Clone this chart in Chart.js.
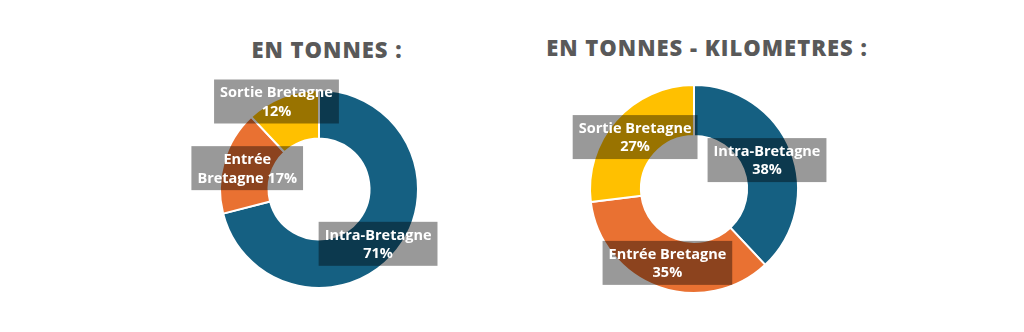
<!DOCTYPE html>
<html>
<head>
<meta charset="utf-8">
<script src="https://cdn.jsdelivr.net/npm/chart.js@4.4.1/dist/chart.umd.min.js"></script>
<style>
  html, body { margin: 0; padding: 0; background: #ffffff; }
  body { width: 1024px; height: 332px; position: relative; overflow: hidden; }
  .title { position: absolute; font-family: "Open Sans", sans-serif; font-weight: 800; font-size: 22px;
           color: #595959; letter-spacing: 1px; white-space: nowrap; transform: translateX(-50%); top: 34px; }
  canvas { position: absolute; top: 0; }
</style>
</head>
<body>
<div class="title" id="t1" style="left:327px;">EN TONNES :</div>
<div class="title" id="t2" style="left:707px;top:32px;">EN TONNES - KILOMETRES :</div>
<canvas id="c1" width="512" height="332" style="left:0;width:512px;height:332px;"></canvas>
<canvas id="c2" width="512" height="332" style="left:512px;width:512px;height:332px;"></canvas>
<script>
// ---- data ----
const categories = ['Intra-Bretagne', 'Entrée Bretagne', 'Sortie Bretagne'];
const tonnesValues = [71, 17, 12];
const tonnesKmValues = [38, 35, 27];
const titles = ['EN TONNES :', 'EN TONNES - KILOMETRES :'];

// ---- style ----
const colors = ['#156082', '#E97132', '#FFC000'];
const labelFont = '700 14.5px "Open Sans", sans-serif';

function buildLines(cat, val, breakAfter) {
  const full = cat + ' ' + val + '%';
  if (breakAfter) {
    const words = full.split(' ');
    return [words.slice(0, breakAfter).join(' '), words.slice(breakAfter).join(' ')];
  }
  return [cat, val + '%'];
}

const boxLabels = {
  id: 'boxLabels',
  afterDatasetsDraw(chart, args, opts) {
    const ctx = chart.ctx;
    const meta = chart.getDatasetMeta(0);
    const data = chart.data.datasets[0].data;
    ctx.save();
    ctx.font = labelFont;
    ctx.textAlign = 'center';
    ctx.textBaseline = 'middle';
    meta.data.forEach((arc, i) => {
      const p = arc.tooltipPosition();
      const off = (opts.offsets && opts.offsets[i]) || [0, 0];
      const cx = p.x + off[0], cy = p.y + off[1];
      const lines = buildLines(chart.data.labels[i], data[i], opts.breaks ? opts.breaks[i] : 0);
      const lh = 18.5;
      const w = Math.max(...lines.map(l => ctx.measureText(l).width)) + 12;
      const h = lh * lines.length + 7;
      ctx.fillStyle = 'rgba(0,0,0,0.4)';
      ctx.fillRect(cx - w / 2, cy - h / 2, w, h);
      ctx.fillStyle = '#ffffff';
      lines.forEach((l, k) => {
        ctx.fillText(l, cx, cy + (k - (lines.length - 1) / 2) * lh + 1);
      });
    });
    ctx.restore();
  }
};

function makeChart(id, values, padding, labelOpts) {
  return new Chart(document.getElementById(id), {
    type: 'doughnut',
    data: {
      labels: categories,
      datasets: [{
        data: values,
        backgroundColor: colors,
        borderColor: '#ffffff',
        borderWidth: 2,
        hoverOffset: 0,
        offset: 0
      }]
    },
    options: {
      responsive: false,
      animation: false,
      cutout: '51%',
      rotation: 0,
      layout: { padding: padding },
      plugins: {
        legend: { display: false },
        tooltip: { enabled: false },
        title: { display: false },
        boxLabels: labelOpts
      },
      events: []
    },
    plugins: [boxLabels]
  });
}

makeChart('c1', tonnesValues, { left: 219, right: 93, top: 89, bottom: 43 },
  { offsets: [[0, 9], [0, 0], [-15, -18]], breaks: [0, 1, 0] });
makeChart('c2', tonnesKmValues, { left: 77, right: 225, top: 84, bottom: 38 },
  { offsets: [[0, 0], [0, 0], [0, 0]], breaks: [0, 0, 0] });
</script>
</body>
</html>
